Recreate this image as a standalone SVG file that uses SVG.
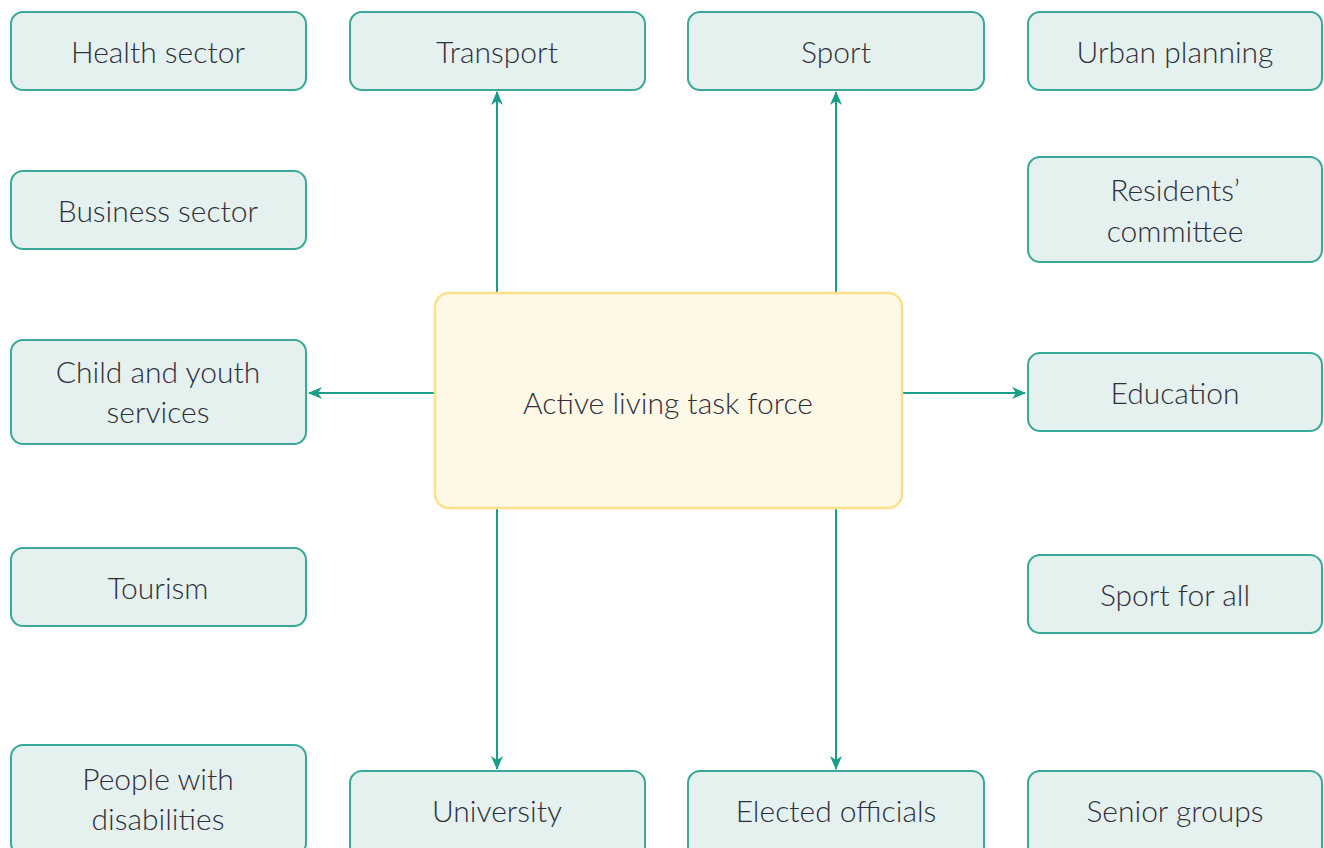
<svg xmlns="http://www.w3.org/2000/svg" width="1324" height="848" viewBox="0 0 1324 848">
<defs>
<style>
.n rect{fill:#e4f1ee;stroke:#3aa898;stroke-width:2}
.c rect{fill:#fef8e6;stroke:#fde08a;stroke-width:2.5}
text{font-family:Lato,"Open Sans",sans-serif;font-size:30px;font-weight:300;fill:#2f2f3c;text-anchor:middle}
.e line{stroke:#1a9e8a;stroke-width:2}
</style>
<marker id="ah" viewBox="0 0 14 12" refX="13" refY="6" markerWidth="14" markerHeight="12" markerUnits="userSpaceOnUse" orient="auto">
<path d="M0,0 L14,6 L0,12 L4,6 Z" fill="#1a9e8a"/>
</marker>
</defs>
<rect width="1324" height="848" fill="#ffffff"/>
<g class="e" id="connectors">
<line x1="497" y1="292" x2="497" y2="92" marker-end="url(#ah)"/>
<line x1="836" y1="292" x2="836" y2="92" marker-end="url(#ah)"/>
<line x1="497" y1="509" x2="497" y2="769" marker-end="url(#ah)"/>
<line x1="836" y1="509" x2="836" y2="769" marker-end="url(#ah)"/>
<line x1="434" y1="393" x2="309" y2="393" marker-end="url(#ah)"/>
<line x1="903" y1="393" x2="1025" y2="393" marker-end="url(#ah)"/>
</g>
<g id="center" class="c"><rect x="435" y="293" width="467" height="215" rx="14"/><text x="668" y="414">Active living task force</text></g>
<g id="health" class="n"><rect x="11" y="12" width="295" height="78" rx="12"/><text x="158" y="63">Health sector</text></g>
<g id="transport" class="n"><rect x="350" y="12" width="295" height="78" rx="12"/><text x="497" y="63">Transport</text></g>
<g id="sport" class="n"><rect x="688" y="12" width="296" height="78" rx="12"/><text x="836" y="63">Sport</text></g>
<g id="urban" class="n"><rect x="1028" y="12" width="294" height="78" rx="12"/><text x="1175" y="63">Urban planning</text></g>
<g id="business" class="n"><rect x="11" y="171" width="295" height="78" rx="12"/><text x="158" y="222">Business sector</text></g>
<g id="residents" class="n"><rect x="1028" y="157" width="294" height="105" rx="12"/><text x="1175" y="201">Residents’</text><text x="1175" y="242">committee</text></g>
<g id="child" class="n"><rect x="11" y="340" width="295" height="104" rx="12"/><text x="158" y="383">Child and youth</text><text x="158" y="423">services</text></g>
<g id="education" class="n"><rect x="1028" y="353" width="294" height="78" rx="12"/><text x="1175" y="404">Education</text></g>
<g id="tourism" class="n"><rect x="11" y="548" width="295" height="78" rx="12"/><text x="158" y="599">Tourism</text></g>
<g id="sportforall" class="n"><rect x="1028" y="555" width="294" height="78" rx="12"/><text x="1175" y="606">Sport for all</text></g>
<g id="disabilities" class="n"><rect x="11" y="745" width="295" height="110" rx="12"/><text x="158" y="790">People with</text><text x="158" y="830">disabilities</text></g>
<g id="university" class="n"><rect x="350" y="771" width="295" height="90" rx="12"/><text x="497" y="822">University</text></g>
<g id="elected" class="n"><rect x="688" y="771" width="296" height="90" rx="12"/><text x="836" y="822">Elected officials</text></g>
<g id="senior" class="n"><rect x="1028" y="771" width="294" height="90" rx="12"/><text x="1175" y="822">Senior groups</text></g>
</svg>
